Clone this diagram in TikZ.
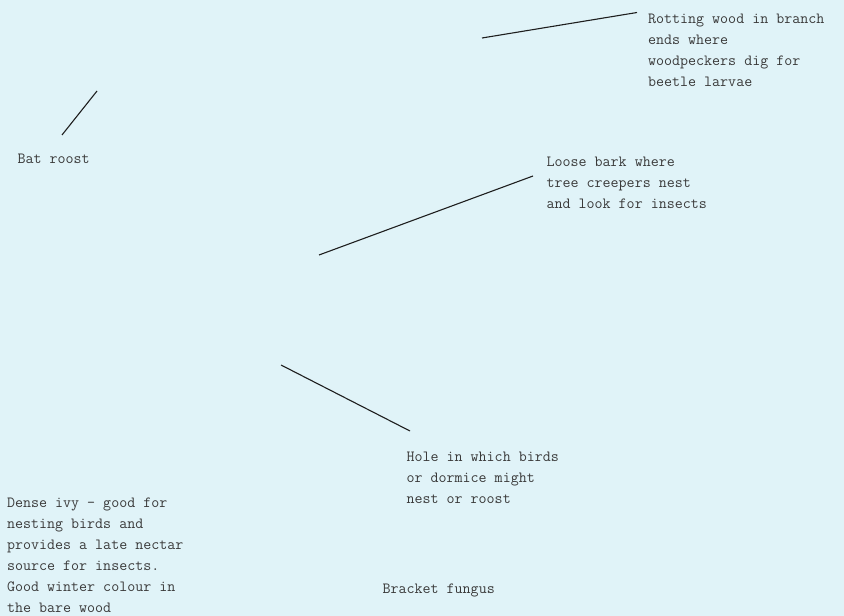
\documentclass[tikz,border=0pt]{standalone}
\usepackage{xcolor}
\usepackage{tikz}
\usetikzlibrary{positioning}
\definecolor{paper}{HTML}{E0F3F8}
\definecolor{inktext}{HTML}{3A3A3A}
\definecolor{inkline}{HTML}{1E1E1E}

\begin{document}
\begin{tikzpicture}[x=1bp, y=-1bp,
  note/.style={anchor=base west, inner sep=0pt, align=left, text=inktext,
    font=\ttfamily\fontsize{15.6}{21}\selectfont},
  pointer/.style={draw=inkline, line width=1.1bp}]
% --- Background ---
\fill[paper] (0,0) rectangle (844,616);
\useasboundingbox (0,0) rectangle (844,616);

% --- Labels (placed at the baseline of their last line) ---
\node[note] (rotting) at (648, 86.3)
  {Rotting wood in branch\\ends where\\woodpeckers dig for\\beetle larvae};
\node[note] (bat) at (17.5, 163.2) {Bat roost};
\node[note] (bark) at (546.5, 208.7)
  {Loose bark where\\tree creepers nest\\and look for insects};
\node[note] (hole) at (406.5, 503)
  {Hole in which birds\\or dormice might\\nest or roost};
\node[note] (ivy) at (7, 612.5)
  {Dense ivy - good for\\nesting birds and\\provides a late nectar\\source for insects.\\Good winter colour in\\the bare wood};
\node[note] (fungus) at (382.5, 593.3) {Bracket fungus};

% --- Pointer ends (on the tree) ---
\coordinate (rotting-tip) at (482, 38);
\coordinate (rotting-end) at (637, 12.5);
\coordinate (bat-tip) at (97, 91);
\coordinate (bat-end) at (62, 135);
\coordinate (bark-tip) at (319, 255);
\coordinate (bark-end) at (533, 176);
\coordinate (hole-tip) at (281, 365);
\coordinate (hole-end) at (410, 431);

% --- Pointers ---
\draw[pointer] (rotting-end) -- (rotting-tip);
\draw[pointer] (bat-end) -- (bat-tip);
\draw[pointer] (bark-end) -- (bark-tip);
\draw[pointer] (hole-end) -- (hole-tip);
\end{tikzpicture}
\end{document}
